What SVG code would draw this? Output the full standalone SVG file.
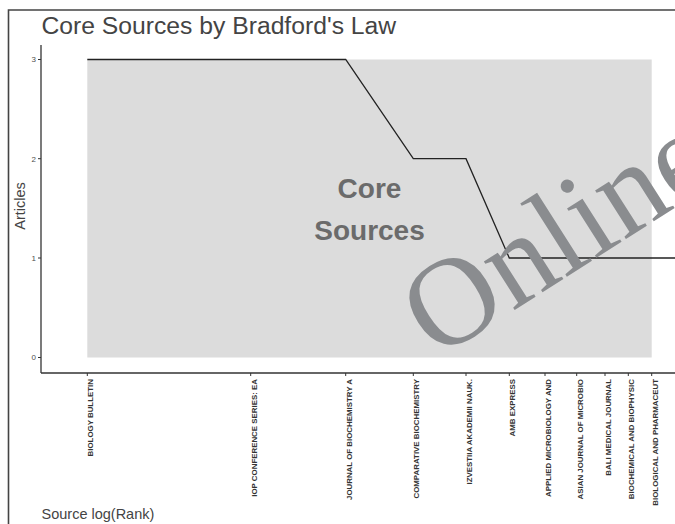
<svg xmlns="http://www.w3.org/2000/svg" width="675" height="524" viewBox="0 0 675 524">
<style>
.sans{font-family:"Liberation Sans",Arial,sans-serif}
.xt{font-family:"Liberation Sans",Arial,sans-serif;font-size:7.9px;font-weight:bold;fill:#333;text-anchor:end}
.yt{font-family:"Liberation Sans",Arial,sans-serif;font-size:8px;fill:#4d4d4d;text-anchor:end}
.tick{stroke:#333;stroke-width:1}
.axis{stroke:#333;stroke-width:1.3;fill:none}
</style>
<rect x="0" y="0" width="675" height="524" fill="#ffffff"/>
<g id="frame">
<path d="M8.5,524 V10 H675" fill="none" stroke="#444" stroke-width="1.6"/>
</g>
<g id="title">
<text class="sans" x="41.5" y="33.5" font-size="24.7" fill="#444">Core Sources by Bradford's Law</text>
</g>
<g id="core-area">
<rect x="87.3" y="59.5" width="564.4" height="298" fill="#dcdcdc"/>
</g>
<g id="core-label">
<text class="sans" x="369.5" y="198" font-size="28" font-weight="bold" fill="#6b6b6b" text-anchor="middle">Core</text>
<text class="sans" x="369.5" y="240" font-size="28" font-weight="bold" fill="#6b6b6b" text-anchor="middle">Sources</text>
</g>
<g id="connectors">
<polyline points="87.3,59.5 345.7,59.5 413.3,158.7 466,158.7 509.3,258 675,258" fill="none" stroke="#222" stroke-width="1.3"/>
</g>
<g id="y-axis">
<line class="axis" x1="41" y1="45" x2="41" y2="373"/>
<line class="tick" x1="38" y1="59.5" x2="41" y2="59.5"/>
<line class="tick" x1="38" y1="158.7" x2="41" y2="158.7"/>
<line class="tick" x1="38" y1="258" x2="41" y2="258"/>
<line class="tick" x1="38" y1="357.5" x2="41" y2="357.5"/>
<text class="yt" x="36" y="62.3">3</text>
<text class="yt" x="36" y="161.5">2</text>
<text class="yt" x="36" y="260.8">1</text>
<text class="yt" x="36" y="360.3">0</text>
<text class="sans" x="25" y="206" font-size="14.5" fill="#444" text-anchor="middle" transform="rotate(-90 25 206)">Articles</text>
</g>
<g id="x-axis">
<line class="axis" x1="41" y1="373" x2="675" y2="373"/>
<g class="tick">
<line x1="87.3" y1="373" x2="87.3" y2="376"/>
<line x1="250.7" y1="373" x2="250.7" y2="376"/>
<line x1="345.7" y1="373" x2="345.7" y2="376"/>
<line x1="413.3" y1="373" x2="413.3" y2="376"/>
<line x1="466" y1="373" x2="466" y2="376"/>
<line x1="509.3" y1="373" x2="509.3" y2="376"/>
<line x1="545" y1="373" x2="545" y2="376"/>
<line x1="576.7" y1="373" x2="576.7" y2="376"/>
<line x1="605" y1="373" x2="605" y2="376"/>
<line x1="628.3" y1="373" x2="628.3" y2="376"/>
<line x1="651.7" y1="373" x2="651.7" y2="376"/>
</g>
<text class="xt" x="93.1" y="379" transform="rotate(-90 93.1 379)">BIOLOGY BULLETIN</text>
<text class="xt" x="256.5" y="379" transform="rotate(-90 256.5 379)">IOP CONFERENCE SERIES: EA</text>
<text class="xt" x="351.5" y="379" transform="rotate(-90 351.5 379)">JOURNAL OF BIOCHEMISTRY A</text>
<text class="xt" x="419.1" y="379" transform="rotate(-90 419.1 379)">COMPARATIVE BIOCHEMISTRY</text>
<text class="xt" x="471.8" y="379" transform="rotate(-90 471.8 379)">IZVESTIIA AKADEMII NAUK.</text>
<text class="xt" x="515.1" y="379" transform="rotate(-90 515.1 379)">AMB EXPRESS</text>
<text class="xt" x="550.8" y="379" transform="rotate(-90 550.8 379)">APPLIED MICROBIOLOGY AND</text>
<text class="xt" x="582.5" y="379" transform="rotate(-90 582.5 379)">ASIAN JOURNAL OF MICROBIO</text>
<text class="xt" x="610.8" y="379" transform="rotate(-90 610.8 379)">BALI MEDICAL JOURNAL</text>
<text class="xt" x="634.1" y="379" transform="rotate(-90 634.1 379)">BIOCHEMICAL AND BIOPHYSIC</text>
<text class="xt" x="657.5" y="379" transform="rotate(-90 657.5 379)">BIOLOGICAL AND PHARMACEUT</text>
<text class="sans" x="41.5" y="519" font-size="14.5" fill="#444">Source log(Rank)</text>
</g>
<g id="watermark">
<text x="436" y="360" font-family="'Liberation Serif','Times New Roman',serif" font-size="125" fill="#8a8c8f" transform="rotate(-32.5 436 360)">Online</text>
</g>
</svg>
